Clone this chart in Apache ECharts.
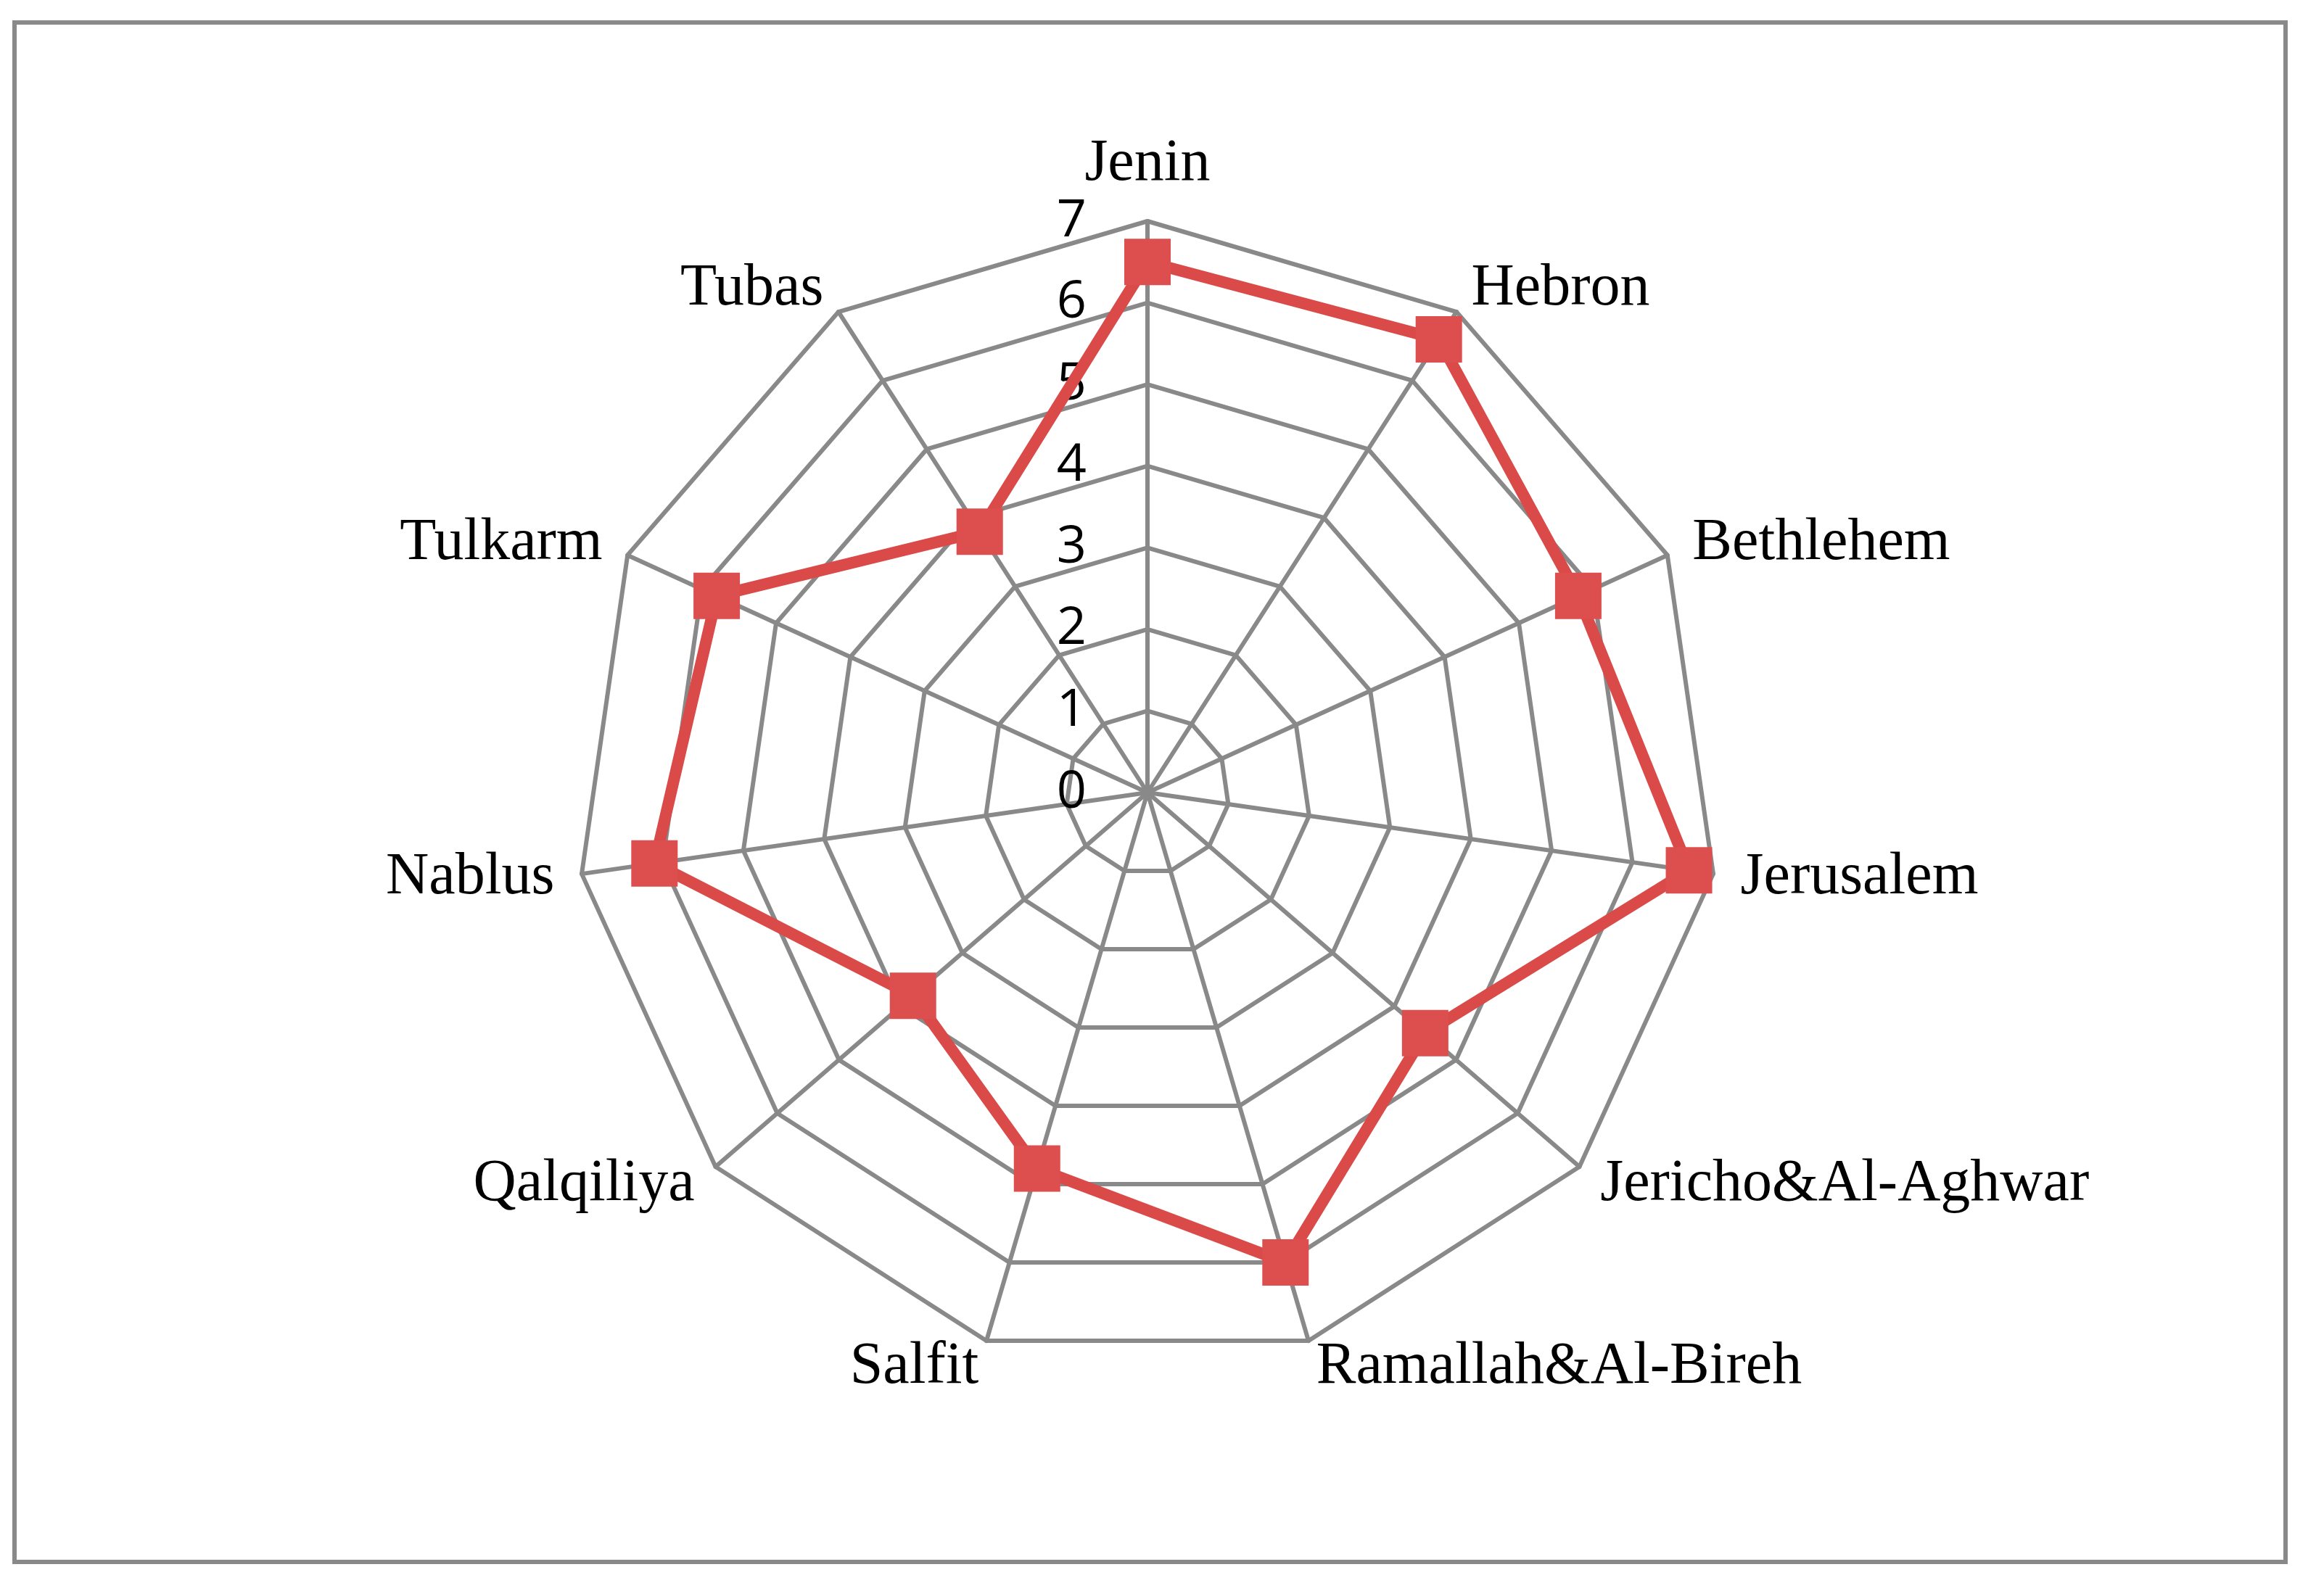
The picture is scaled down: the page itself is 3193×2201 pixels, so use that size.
<!DOCTYPE html>
<html>
<head>
<meta charset="utf-8">
<script src="https://cdn.jsdelivr.net/npm/echarts@6/dist/echarts.min.js"></script>
<style>
    html, body { margin: 0; padding: 0; background: #fff; }
    #chartRadar { width: 3193px; height: 2201px; }
</style>
</head>
<body>
<div id="chartRadar"></div>
<script>
    // districts, clockwise from the top
    var districts = ['Jenin', 'Hebron', 'Bethlehem', 'Jerusalem', 'Jericho&Al-Aghwar',
        'Ramallah&Al-Bireh', 'Salfit', 'Qalqiliya', 'Nablus', 'Tulkarm', 'Tubas'];
    var values = [6.5, 6.6, 5.8, 6.7, 4.5, 6.0, 4.8, 3.8, 6.1, 5.8, 3.8];
    var axisMin = 0;
    var axisMax = 7;
    var axisStep = 1;

    // echarts lays indicators out counter-clockwise, so flip everything after the first one
    var order = [0];
    for (var i = districts.length - 1; i > 0; i--) {
        order.push(i);
    }

    var gray = '#898989';
    var red = '#D94A49';

    var indicators = order.map(function (idx, k) {
        var ind = { name: districts[idx], min: axisMin, max: axisMax };
        if (k === 0) {
            // only the vertical axis carries the scale labels
            ind.axisLabel = { show: true };
        }
        return ind;
    });
    var seriesData = order.map(function (idx) { return values[idx]; });

    var chartRadar = echarts.init(document.getElementById('chartRadar'));
    var option = {
        backgroundColor: '#fff',
        animation: false,
        graphic: [{
            type: 'rect',
            shape: { x: 20, y: 31, width: 3131, height: 2123 },
            style: { fill: null, stroke: gray, lineWidth: 6 },
            silent: true
        }],
        radar: {
            center: [1582, 1093],
            radius: 788,
            startAngle: 90,
            shape: 'polygon',
            splitNumber: (axisMax - axisMin) / axisStep,
            indicator: indicators,
            nameGap: 38,
            axisName: {
                color: '#000',
                fontFamily: 'Liberation Serif',
                fontSize: 82
            },
            axisLine: { lineStyle: { color: gray, width: 6 } },
            splitLine: { lineStyle: { color: gray, width: 6 } },
            splitArea: { show: false },
            axisTick: { show: false },
            axisLabel: {
                show: false,
                color: '#000',
                fontFamily: 'Open Sans',
                fontSize: 72,
                margin: 84
            }
        },
        series: [{
            type: 'radar',
            symbol: 'rect',
            symbolSize: 64,
            lineStyle: { color: red, width: 16 },
            itemStyle: { color: '#DC4F4E' },
            data: [{ value: seriesData, name: 'value' }]
        }]
    };
    chartRadar.setOption(option);
</script>
</body>
</html>
